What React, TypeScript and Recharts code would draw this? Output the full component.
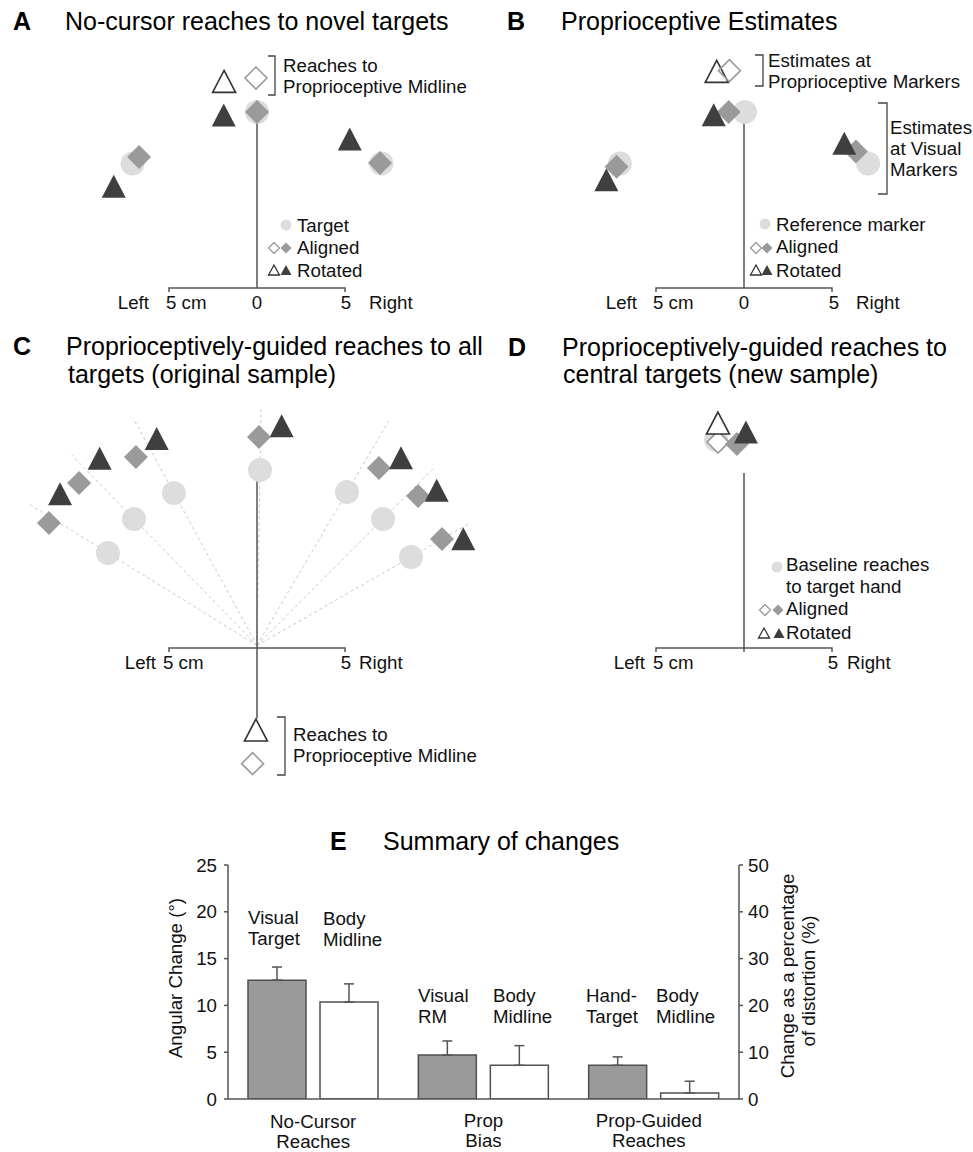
import React from 'react';
import { ScatterChart, Scatter, XAxis, YAxis, BarChart, Bar, ErrorBar } from 'recharts';

const FONT = '"Liberation Sans", Arial, Helvetica, sans-serif';
const INK = '#111111';
const AXIS = '#555555';
const TARGET = '#dcdddc';
const ALIGNED = '#9a9a9a';
const ROTATED = '#3f3f3f';
const OPEN_TRI = '#333333';
const RAY = '#c9c9c9';
const BAR_STROKE = '#505050';
const PX_PER_CM = 17.6;
const TICK_CM = 4 / PX_PER_CM;
const TITLE_SIZE = 25;
const LABEL_SIZE = 18.7;

// ---------- shared axis data ----------
const axisTicksCm = [-5, 0, 5];
const tickTexts = ['5 cm', '0', '5'];
const sideLabels = ['Left', 'Right'];

// ---------- Panel A: no-cursor reaches ----------
const aTarget = [{ x: -7.07, y: 7.07 }, { x: 0, y: 10 }, { x: 7.07, y: 7.07 }];
const aAligned = [{ x: -6.7, y: 7.44 }, { x: 0, y: 10 }, { x: 6.99, y: 7.1 }];
const aRotated = [{ x: -8.14, y: 5.78 }, { x: -1.89, y: 9.83 }, { x: 5.27, y: 8.47 }];
const aAlignedMidline = [{ x: -0.06, y: 11.93 }];
const aRotatedMidline = [{ x: -1.87, y: 11.74 }];
const aMidline = [{ x: 0, y: 10 }, { x: 0, y: 0 }];

// ---------- Panel B: proprioceptive estimates ----------
const bReference = [{ x: -7.05, y: 7.07 }, { x: 0.05, y: 10 }, { x: 7.05, y: 7.07 }];
const bAligned = [{ x: -7.24, y: 6.89 }, { x: -0.87, y: 10.0 }, { x: 6.36, y: 7.75 }];
const bRotated = [{ x: -7.82, y: 6.15 }, { x: -1.72, y: 9.85 }, { x: 5.7, y: 8.22 }];
const bAlignedProp = [{ x: -0.83, y: 12.35 }];
const bRotatedProp = [{ x: -1.55, y: 12.31 }];
const bMidline = [{ x: 0, y: 10 }, { x: 0, y: 0 }];

// ---------- Panel C: prop-guided reaches, all targets ----------
const cTarget = [
  { x: 0.17, y: 10.11 }, { x: -4.72, y: 8.81 }, { x: -6.99, y: 7.33 }, { x: -8.47, y: 5.4 },
  { x: 5.11, y: 8.86 }, { x: 7.16, y: 7.33 }, { x: 8.75, y: 5.17 },
];
const cAligned = [
  { x: 0.11, y: 11.99 }, { x: -6.88, y: 10.85 }, { x: -10.11, y: 9.38 }, { x: -11.82, y: 7.1 },
  { x: 6.93, y: 10.23 }, { x: 9.15, y: 8.64 }, { x: 10.51, y: 6.19 },
];
const cRotated = [
  { x: 1.4, y: 12.63 }, { x: -5.7, y: 11.91 }, { x: -8.94, y: 10.78 }, { x: -11.19, y: 8.77 },
  { x: 8.18, y: 10.81 }, { x: 10.21, y: 8.96 }, { x: 11.72, y: 6.21 },
];
const cRayLength = [13.4, 14.7, 15.1, 15.2, 14.8, 14.3, 14.0];
const cRayStart = { x: 0, y: 0.15 };
const cRotatedMidline = [{ x: -0.06, y: -4.66 }];
const cAlignedMidline = [{ x: -0.25, y: -6.57 }];
const cMidline = [{ x: 0, y: 10.1 }, { x: 0, y: -4.0 }];

// ---------- Panel D: prop-guided reaches, central target ----------
const dBaseline = [{ x: -1.59, y: 11.82 }];
const dAligned = [{ x: -0.4, y: 11.59 }];
const dRotated = [{ x: 0.11, y: 12.27 }];
const dAlignedMidline = [{ x: -1.48, y: 11.7 }];
const dRotatedMidline = [{ x: -1.48, y: 12.78 }];
const dMidline = [{ x: 0, y: 9.94 }, { x: 0, y: -TICK_CM }];

// ---------- Panel E: summary ----------
const groupLine1 = ['No-Cursor', 'Prop', 'Prop-Guided'];
const groupLine2 = ['Reaches', 'Bias', 'Reaches'];
const groupLabelDx = [0, 0, -5];
const groupLabelDy = [29, 28, 28];
const primaryValues = [12.7, 4.7, 3.6];
const primaryErrors = [1.4, 1.5, 0.9];
const secondaryValues = [10.35, 3.6, 0.65];
const secondaryErrors = [1.95, 2.1, 1.25];
const leftTicks = [0, 5, 10, 15, 20, 25];
const rightTicks = [0, 10, 20, 30, 40, 50];

const eData = groupLine1.map((g, i) => ({
  group: g,
  primary: primaryValues[i],
  primaryErr: [0, primaryErrors[i]],
  secondary: secondaryValues[i],
  secondaryErr: [0, secondaryErrors[i]],
}));

// ---------- shapes ----------
const empty = () => <g />;
const circleShape = (r: number, fill: string) => (p: any) => (
  <circle cx={p.cx} cy={p.cy} r={r} fill={fill} />
);
const diamondShape = (h: number, fill: string, stroke?: string) => (p: any) => (
  <polygon
    points={`${p.cx},${p.cy - h} ${p.cx + h},${p.cy} ${p.cx},${p.cy + h} ${p.cx - h},${p.cy}`}
    fill={fill}
    stroke={stroke || 'none'}
    strokeWidth={1.6}
  />
);
const triangleShape = (w: number, h: number, fill: string, stroke?: string) => (p: any) => (
  <polygon
    points={`${p.cx},${p.cy - h / 2} ${p.cx + w / 2},${p.cy + h / 2} ${p.cx - w / 2},${p.cy + h / 2}`}
    fill={fill}
    stroke={stroke || 'none'}
    strokeWidth={1.6}
    strokeLinejoin="miter"
  />
);

const txt = { fontFamily: FONT, fontSize: LABEL_SIZE, fill: INK };

type TickCfg = { leftGap: number; unitDx: number; fiveDx: number; rightGap: number };
const tickLabelShape = (cfg: TickCfg) => (p: any) => {
  const { cx, cy, payload } = p;
  const y = cy + 21;
  if (payload.x < 0) {
    return (
      <g>
        <text {...txt} x={cx - cfg.leftGap} y={y} textAnchor="end">{sideLabels[0]}</text>
        <text {...txt} x={cx + cfg.unitDx} y={y} textAnchor="start">{payload.label}</text>
      </g>
    );
  }
  if (payload.x > 0) {
    return (
      <g>
        <text {...txt} x={cx + cfg.fiveDx} y={y} textAnchor="middle">{payload.label}</text>
        <text {...txt} x={cx + cfg.rightGap} y={y} textAnchor="start">{sideLabels[1]}</text>
      </g>
    );
  }
  return <text {...txt} x={cx} y={y} textAnchor="middle">{payload.label}</text>;
};

const tickData = (withZero: boolean) =>
  axisTicksCm
    .map((x, i) => ({ x, y: 0, label: tickTexts[i] }))
    .filter((d) => withZero || d.x !== 0);

const axisPolyline = [
  { x: axisTicksCm[0], y: -TICK_CM },
  { x: axisTicksCm[0], y: 0 },
  { x: axisTicksCm[2], y: 0 },
  { x: axisTicksCm[2], y: -TICK_CM },
];

const lineSeries = (key: string, pts: any[], stroke: string, width: number, dash?: string) => (
  <Scatter
    key={key}
    data={pts}
    line={{ stroke, strokeWidth: width, strokeDasharray: dash }}
    lineType="joint"
    shape={empty}
    isAnimationActive={false}
  />
);

const markers = (key: string, pts: any[], shape: any) => (
  <Scatter key={key} data={pts} shape={shape} isAnimationActive={false} />
);

type PanelProps = {
  left: number; top: number; width: number; height: number; ox: number; oy: number;
  children: React.ReactNode;
};
function Panel({ left, top, width, height, ox, oy, children }: PanelProps) {
  const xDomain = [(left - ox) / PX_PER_CM, (left + width - ox) / PX_PER_CM];
  const yDomain = [(oy - top - height) / PX_PER_CM, (oy - top) / PX_PER_CM];
  return (
    <div style={{ position: 'absolute', left, top, width, height }}>
      <ScatterChart width={width} height={height} margin={{ top: 0, right: 0, bottom: 0, left: 0 }}>
        <XAxis type="number" dataKey="x" domain={xDomain} hide allowDataOverflow />
        <YAxis type="number" dataKey="y" domain={yDomain} hide allowDataOverflow />
        {children}
      </ScatterChart>
    </div>
  );
}

const rays = cTarget.map((t, i) => {
  const dx = t.x - cRayStart.x;
  const dy = t.y - cRayStart.y;
  const len = Math.sqrt(dx * dx + dy * dy);
  return [cRayStart, { x: cRayStart.x + (dx / len) * cRayLength[i], y: cRayStart.y + (dy / len) * cRayLength[i] }];
});

const bigCircle = circleShape(12, TARGET);
const bigDiamond = diamondShape(12, ALIGNED);
const bigOpenDiamond = diamondShape(11, '#ffffff', ALIGNED);
const bigOpenDiamondClear = diamondShape(11, 'none', ALIGNED);
const bigTriangle = triangleShape(24, 23, ROTATED);
const bigOpenTriangle = triangleShape(23, 22, '#ffffff', OPEN_TRI);
const bigOpenTriangleClear = triangleShape(23, 22, 'none', OPEN_TRI);

// ---------- overlay helpers ----------
const T = (props: any) => <text fontFamily={FONT} fontSize={LABEL_SIZE} fill={INK} {...props} />;
const Title = (props: any) => <text fontFamily={FONT} fontSize={TITLE_SIZE} fill="#000" {...props} />;
const dia = (cx: number, cy: number, h: number) => `${cx},${cy - h} ${cx + h},${cy} ${cx},${cy + h} ${cx - h},${cy}`;
const tri = (cx: number, cy: number, w: number, h: number) =>
  `${cx},${cy - h / 2} ${cx + w / 2},${cy + h / 2} ${cx - w / 2},${cy + h / 2}`;

const LegendRows = ({ circle, d1, d2, t1, t2 }: any) => (
  <g>
    <circle cx={circle[0]} cy={circle[1]} r={5.5} fill={TARGET} />
    <polygon points={dia(d1[0], d1[1], 5.5)} fill="#fff" stroke={ALIGNED} strokeWidth={1.3} />
    <polygon points={dia(d2[0], d2[1], 5.5)} fill={ALIGNED} />
    <polygon points={tri(t1[0], t1[1], 11, 10)} fill="#fff" stroke={OPEN_TRI} strokeWidth={1.3} />
    <polygon points={tri(t2[0], t2[1], 11, 10)} fill={ROTATED} />
  </g>
);

const Bracket = ({ x, x0, y1, y2 }: any) => (
  <path d={`M${x0},${y1} H${x} V${y2} H${x0}`} fill="none" stroke="#444" strokeWidth={1.3} />
);

const GroupTick = (p: any) => {
  const i = p.index ?? p.payload?.index ?? 0;
  const x = p.x + groupLabelDx[i];
  const y = p.y + groupLabelDy[i];
  return (
    <g>
      <text {...txt} x={x} y={y} textAnchor="middle">{groupLine1[i]}</text>
      <text {...txt} x={x} y={y + 20} textAnchor="middle">{groupLine2[i]}</text>
    </g>
  );
};

const axisTick = { fill: INK, fontSize: LABEL_SIZE, fontFamily: FONT };

export default function App() {
  return (
    <div style={{ position: 'absolute', left: 0, top: 0, width: 973, height: 1152, background: '#fff', overflow: 'hidden' }}>
      {/* Panel A */}
      <Panel left={0} top={36} width={490} height={290} ox={257} oy={288}>
        {lineSeries('a-mid', aMidline, AXIS, 1.5)}
        {lineSeries('a-axis', axisPolyline, AXIS, 1.5)}
        {markers('a-t', aTarget, bigCircle)}
        {markers('a-al', aAligned, bigDiamond)}
        {markers('a-ro', aRotated, bigTriangle)}
        {markers('a-rom', aRotatedMidline, bigOpenTriangle)}
        {markers('a-alm', aAlignedMidline, bigOpenDiamond)}
        {markers('a-ticks', tickData(true), tickLabelShape({ leftGap: 20, unitDx: -3, fiveDx: 1, rightGap: 24 }))}
      </Panel>

      {/* Panel B */}
      <Panel left={490} top={36} width={483} height={290} ox={744} oy={288}>
        {lineSeries('b-mid', bMidline, AXIS, 1.5)}
        {lineSeries('b-axis', axisPolyline, AXIS, 1.5)}
        {markers('b-r', bReference, bigCircle)}
        {markers('b-al', bAligned, bigDiamond)}
        {markers('b-ro', bRotated, bigTriangle)}
        {markers('b-rop', bRotatedProp, bigOpenTriangleClear)}
        {markers('b-alp', bAlignedProp, bigOpenDiamondClear)}
        {markers('b-ticks', tickData(true), tickLabelShape({ leftGap: 19, unitDx: -3, fiveDx: 2, rightGap: 24 }))}
      </Panel>

      {/* Panel C */}
      <Panel left={0} top={392} width={490} height={395} ox={257} oy={648}>
        {rays.map((r, i) => lineSeries(`c-ray-${i}`, r, RAY, 1, '3 3'))}
        {lineSeries('c-mid', cMidline, AXIS, 1.5)}
        {lineSeries('c-axis', axisPolyline, AXIS, 1.5)}
        {markers('c-t', cTarget, bigCircle)}
        {markers('c-al', cAligned, bigDiamond)}
        {markers('c-ro', cRotated, bigTriangle)}
        {markers('c-rom', cRotatedMidline, bigOpenTriangle)}
        {markers('c-alm', cAlignedMidline, bigOpenDiamond)}
        {markers('c-ticks', tickData(false), tickLabelShape({ leftGap: 13, unitDx: -6, fiveDx: 1, rightGap: 14 }))}
      </Panel>

      {/* Panel D */}
      <Panel left={490} top={392} width={483} height={290} ox={744} oy={648}>
        {lineSeries('d-mid', dMidline, AXIS, 1.5)}
        {lineSeries('d-axis', axisPolyline, AXIS, 1.5)}
        {markers('d-b', dBaseline, bigCircle)}
        {markers('d-alm', dAlignedMidline, bigOpenDiamond)}
        {markers('d-al', dAligned, bigDiamond)}
        {markers('d-rom', dRotatedMidline, bigOpenTriangle)}
        {markers('d-ro', dRotated, bigTriangle)}
        {markers('d-ticks', tickData(false), tickLabelShape({ leftGap: 11, unitDx: -3, fiveDx: 1, rightGap: 15 }))}
      </Panel>

      {/* Panel E */}
      <div style={{ position: 'absolute', left: 140, top: 850 }}>
        <BarChart
          width={680}
          height={302}
          data={eData}
          margin={{ top: 15, right: 21, bottom: 3, left: 28 }}
          barGap={14}
          barSize={58}
        >
          <XAxis
            dataKey="group"
            height={50}
            axisLine={{ stroke: AXIS, strokeWidth: 1.5 }}
            tickLine={false}
            tickSize={0}
            tickMargin={0}
            interval={0}
            tick={(p: any) => <GroupTick {...p} />}
          />
          <YAxis
            yAxisId="left"
            orientation="left"
            width={60}
            type="number"
            domain={[0, 25]}
            ticks={leftTicks}
            allowDataOverflow
            tickSize={4}
            tickMargin={7}
            axisLine={{ stroke: AXIS, strokeWidth: 1.5 }}
            tickLine={{ stroke: AXIS, strokeWidth: 1.5 }}
            tick={axisTick}
          />
          <YAxis
            yAxisId="right"
            orientation="right"
            width={60}
            type="number"
            domain={[0, 50]}
            ticks={rightTicks}
            allowDataOverflow
            tickSize={4}
            tickMargin={5}
            axisLine={{ stroke: AXIS, strokeWidth: 1.5 }}
            tickLine={{ stroke: AXIS, strokeWidth: 1.5 }}
            tick={{ ...axisTick, textAnchor: 'start' }}
          />
          <Bar yAxisId="left" dataKey="primary" fill={ALIGNED} stroke={BAR_STROKE} strokeWidth={1.5} isAnimationActive={false}>
            <ErrorBar dataKey="primaryErr" width={5} stroke={AXIS} strokeWidth={1.5} direction="y" />
          </Bar>
          <Bar yAxisId="left" dataKey="secondary" fill="#ffffff" stroke={BAR_STROKE} strokeWidth={1.5} isAnimationActive={false}>
            <ErrorBar dataKey="secondaryErr" width={5} stroke={AXIS} strokeWidth={1.5} direction="y" />
          </Bar>
        </BarChart>
      </div>

      {/* Annotation overlay */}
      <svg width={973} height={1152} style={{ position: 'absolute', left: 0, top: 0, pointerEvents: 'none' }}>
        {/* titles */}
        <Title x={13} y={30} fontWeight="bold">A</Title>
        <Title x={65} y={30}>No-cursor reaches to novel targets</Title>
        <Title x={507} y={30} fontWeight="bold">B</Title>
        <Title x={561} y={30}>Proprioceptive Estimates</Title>
        <Title x={13} y={355} fontWeight="bold">C</Title>
        <Title x={66} y={355}>Proprioceptively-guided reaches to all</Title>
        <Title x={68} y={383}>targets (original sample)</Title>
        <Title x={508} y={356} fontWeight="bold">D</Title>
        <Title x={562} y={356}>Proprioceptively-guided reaches to</Title>
        <Title x={563} y={383}>central targets (new sample)</Title>
        <Title x={330} y={850} fontWeight="bold">E</Title>
        <Title x={383} y={850}>Summary of changes</Title>

        {/* A annotations */}
        <Bracket x={275} x0={268} y1={56} y2={95} />
        <T x={283} y={72}>Reaches to</T>
        <T x={283} y={93}>Proprioceptive Midline</T>
        <LegendRows circle={[286, 225]} d1={[274, 248]} d2={[286, 248]} t1={[274, 270]} t2={[286, 270]} />
        <T x={297} y={232}>Target</T>
        <T x={297} y={254}>Aligned</T>
        <T x={297} y={277}>Rotated</T>

        {/* B annotations */}
        <Bracket x={763} x0={755} y1={55} y2={86} />
        <T x={768} y={67}>Estimates at</T>
        <T x={768} y={88}>Proprioceptive Markers</T>
        <Bracket x={887} x0={878} y1={103} y2={194} />
        <T x={890} y={134}>Estimates</T>
        <T x={890} y={155}>at Visual</T>
        <T x={890} y={176}>Markers</T>
        <LegendRows circle={[765, 224]} d1={[756, 248]} d2={[767, 248]} t1={[756, 270]} t2={[767, 270]} />
        <T x={776} y={231}>Reference marker</T>
        <T x={776} y={253}>Aligned</T>
        <T x={776} y={277}>Rotated</T>

        {/* C annotations */}
        <Bracket x={285} x0={277} y1={717} y2={775} />
        <T x={293} y={741}>Reaches to</T>
        <T x={293} y={762}>Proprioceptive Midline</T>

        {/* D annotations */}
        <LegendRows circle={[777, 567]} d1={[765, 610]} d2={[778, 610]} t1={[764, 633]} t2={[779, 633]} />
        <T x={786} y={571}>Baseline reaches</T>
        <T x={786} y={593}>to target hand</T>
        <T x={786} y={615}>Aligned</T>
        <T x={786} y={639}>Rotated</T>

        {/* E annotations */}
        <T x={248} y={924}>Visual</T>
        <T x={248} y={945}>Target</T>
        <T x={323} y={925}>Body</T>
        <T x={323} y={946}>Midline</T>
        <T x={418} y={1002}>Visual</T>
        <T x={418} y={1023}>RM</T>
        <T x={493} y={1002}>Body</T>
        <T x={493} y={1023}>Midline</T>
        <T x={586} y={1002}>Hand-</T>
        <T x={586} y={1023}>Target</T>
        <T x={656} y={1002}>Body</T>
        <T x={656} y={1023}>Midline</T>
        <T x={175} y={978} textAnchor="middle" dominantBaseline="central" transform="rotate(-90 175 978)">Angular Change (°)</T>
        <T x={787} y={976} textAnchor="middle" dominantBaseline="central" transform="rotate(-90 787 976)">Change as a percentage</T>
        <T x={808} y={981} textAnchor="middle" dominantBaseline="central" transform="rotate(-90 808 981)">of distortion (%)</T>
      </svg>
    </div>
  );
}
